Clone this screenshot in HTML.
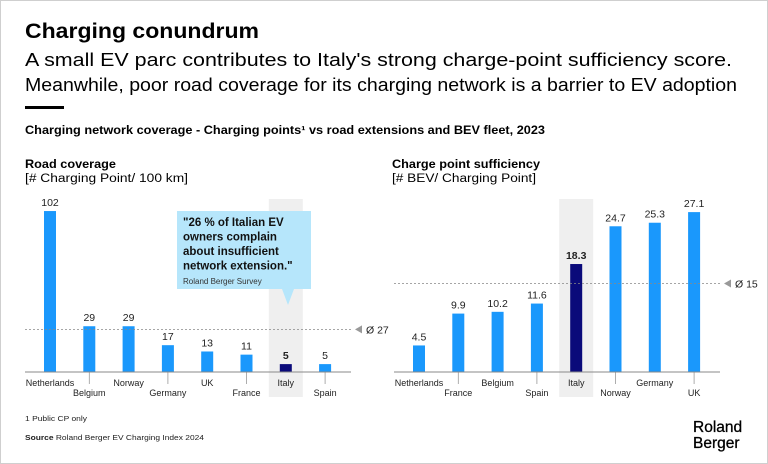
<!DOCTYPE html>
<html><head><meta charset="utf-8"><style>
html,body{margin:0;padding:0;background:#fff}
svg{display:block;font-family:"Liberation Sans",sans-serif}
</style></head><body>
<svg width="768" height="464" viewBox="0 0 768 464">
<rect x="0.5" y="0.5" width="767" height="463" fill="#fff" stroke="#cfcfcf"/>
<text x="25" y="38" font-size="21" font-weight="bold" fill="#000" textLength="234" lengthAdjust="spacingAndGlyphs">Charging conundrum</text>
<text x="25" y="66" font-size="18" fill="#000" textLength="707" lengthAdjust="spacingAndGlyphs">A small EV parc contributes to Italy's strong charge-point sufficiency score.</text>
<text x="25" y="91" font-size="18" fill="#000" textLength="712" lengthAdjust="spacingAndGlyphs">Meanwhile, poor road coverage for its charging network is a barrier to EV adoption</text>
<rect x="25" y="106" width="39" height="3" fill="#000"/>
<text x="25" y="134" font-size="11.5" font-weight="bold" fill="#000" textLength="520" lengthAdjust="spacingAndGlyphs">Charging network coverage - Charging points¹ vs road extensions and BEV fleet, 2023</text>

<text x="25" y="168" font-size="11.5" font-weight="bold" textLength="91" lengthAdjust="spacingAndGlyphs">Road coverage</text>
<text x="25" y="182" font-size="11.5" textLength="163" lengthAdjust="spacingAndGlyphs">[# Charging Point/ 100 km]</text>
<text x="392" y="168" font-size="11.5" font-weight="bold" textLength="148" lengthAdjust="spacingAndGlyphs">Charge point sufficiency</text>
<text x="392" y="182" font-size="11.5" textLength="144" lengthAdjust="spacingAndGlyphs">[# BEV/ Charging Point]</text>

<g id="left"></g>
<g id="right"></g>

<g>
<path d="M177 211 H311 V289 H294 L288 305 L282 289 H177 Z" fill="#b6e6fb"/>
<text x="183" y="226" font-size="11.5" font-weight="bold" fill="#111"><tspan x="183">"26 % of Italian EV</tspan><tspan x="183" dy="14.5">owners complain</tspan><tspan x="183" dy="14.5">about insufficient</tspan><tspan x="183" dy="14.5">network extension."</tspan></text>
<text x="183" y="284" font-size="8" fill="#333">Roland Berger Survey</text>
</g>

<text x="25" y="421" font-size="7.5" fill="#222" textLength="62" lengthAdjust="spacingAndGlyphs">1 Public CP only</text>
<text x="25" y="440" font-size="7.5" fill="#222" textLength="179" lengthAdjust="spacingAndGlyphs"><tspan font-weight="bold">Source</tspan> Roland Berger EV Charging Index 2024</text>
<text x="693" y="432" font-size="15.5" fill="#000" stroke="#000" stroke-width="0.3"><tspan x="693">Roland</tspan><tspan x="693" dy="16">Berger</tspan></text>
</svg>
<script>
const leftCats=["Netherlands","Belgium","Norway","Germany","UK","France","Italy","Spain"];
const leftVals=[102,29,29,17,13,11,5,5];
const leftAvg=27;
const rightCats=["Netherlands","France","Belgium","Spain","Italy","Norway","Germany","UK"];
const rightVals=[4.5,9.9,10.2,11.6,18.3,24.7,25.3,27.1];
const rightAvg=15;
const NS="http://www.w3.org/2000/svg";
function mk(p,t,a){const e=document.createElementNS(NS,t);for(const k in a)e.setAttribute(k,a[k]);p.appendChild(e);return e;}
function chart(g,cats,vals,avg,o){
  const x=i=>o.x0+i*o.step, y=v=>o.base-v*o.scale;
  const hi=cats.indexOf("Italy");
  const sh=mk(g,"rect",{x:x(hi)-17,y:199,width:34,height:198,fill:"#efefef"});
  
  
  cats.forEach((c,i)=>{
    const it=c==="Italy";
    const b=mk(g,"rect",{x:x(i)-6,y:y(vals[i]),width:12,height:vals[i]*o.scale,fill:it?"#0a0a7a":"#1a98fc"});
    
    
    const t=mk(g,"text",{x:x(i),y:y(vals[i])-5,"font-size":10.5,"text-anchor":"middle","font-weight":it?"bold":"normal",fill:"#222"});
    t.textContent=String(vals[i]);
    
    
    const low=i%2===1;
    if(low){const tk=mk(g,"line",{x1:x(i),x2:x(i),y1:o.base,y2:o.base+12,stroke:"#999","stroke-width":0.8});
      
      }
    const l=mk(g,"text",{x:x(i),y:low?o.base+24:o.base+14,"font-size":9,"text-anchor":"middle",fill:"#222"});
    l.textContent=c;
    
    
  });
  const ax=mk(g,"line",{x1:o.ax0,x2:o.ax1,y1:o.base,y2:o.base,stroke:"#888","stroke-width":1});
  
  
  const al=mk(g,"line",{x1:o.ax0,x2:o.ax1,y1:y(avg),y2:y(avg),stroke:"#888","stroke-width":0.8,"stroke-dasharray":"2,2"});
  
  
  const ya=y(avg);
  const tri=mk(g,"path",{d:`M${o.ax1+4} ${ya} L${o.ax1+11} ${ya-4} L${o.ax1+11} ${ya+4} Z`,fill:"#999"});
  
  
  const at=mk(g,"text",{x:o.ax1+15,y:ya+4,"font-size":10.5,fill:"#222"});
  at.textContent="Ø "+avg;
  
  
}
chart(document.getElementById("left"),leftCats,leftVals,leftAvg,{x0:50,step:39.3,base:372,scale:1.578,ax0:25,ax1:351});
chart(document.getElementById("right"),rightCats,rightVals,rightAvg,{x0:419,step:39.3,base:372,scale:5.9,ax0:394,ax1:720});
</script>
</body></html>
